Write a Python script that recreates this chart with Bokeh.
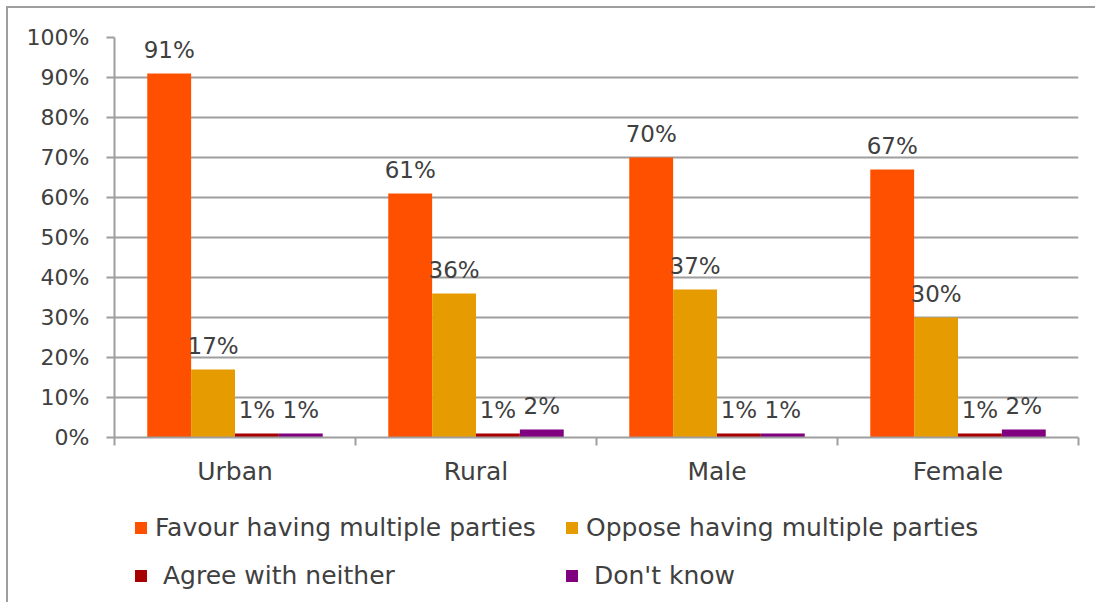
from bokeh.plotting import figure
from bokeh.layouts import column
from bokeh.models import (ColumnDataSource, FixedTicker, PrintfTickFormatter, Legend,
                          LegendItem, LabelSet, Range1d)
from bokeh.core.properties import value
from bokeh.embed import file_html
from bokeh.resources import INLINE

categories = ["Urban", "Rural", "Male", "Female"]
series_names = ["Favour having multiple parties", "Oppose having multiple parties",
                " Agree with neither", " Don't know"]
favour = [91, 61, 70, 67]
oppose = [17, 36, 37, 30]
neither = [1, 1, 1, 1]
dont_know = [1, 2, 1, 2]
series_values = [favour, oppose, neither, dont_know]
colors = ["#FF5000", "#E69C00", "#A80000", "#800080"]
y_ticks = [0, 10, 20, 30, 40, 50, 60, 70, 80, 90, 100]

FONT = "DejaVu Sans"
TXT = "#404040"
GRID = "#9e9e9e"

p = figure(width=1087, height=492, output_backend="svg", toolbar_location=None,
           x_range=Range1d(0, len(categories)), y_range=Range1d(0, 100),
           min_border_left=106, min_border_top=29, min_border_right=17, min_border_bottom=63,
           background_fill_color="white", border_fill_color="white")
p.outline_line_color = None

# axes
p.xaxis.ticker = FixedTicker(ticks=[i + 0.5 for i in range(len(categories))],
                             minor_ticks=list(range(len(categories) + 1)))
p.xaxis.major_label_overrides = {i + 0.5: c for i, c in enumerate(categories)}
p.xaxis.major_tick_out = 0
p.xaxis.major_tick_in = 0
p.xaxis.minor_tick_out = 8
p.xaxis.minor_tick_in = 0
p.xaxis.minor_tick_line_color = GRID
p.xaxis.minor_tick_line_width = 2
p.xaxis.axis_line_color = GRID
p.xaxis.axis_line_width = 2
p.xaxis.major_label_text_font = FONT
p.xaxis.major_label_text_font_size = "25px"
p.xaxis.major_label_text_color = TXT
p.xaxis.major_label_standoff = 11

p.yaxis.ticker = FixedTicker(ticks=y_ticks)
p.yaxis.formatter = PrintfTickFormatter(format="%d%%")
p.yaxis.major_tick_out = 8
p.yaxis.major_tick_in = 0
p.yaxis.minor_tick_line_color = None
p.yaxis.major_tick_line_color = GRID
p.yaxis.major_tick_line_width = 2
p.yaxis.axis_line_color = GRID
p.yaxis.axis_line_width = 2
p.yaxis.major_label_text_font = FONT
p.yaxis.major_label_text_font_size = "22px"
p.yaxis.major_label_text_color = TXT
p.yaxis.major_label_standoff = 17

p.xgrid.grid_line_color = None
p.ygrid.grid_line_color = GRID
p.ygrid.grid_line_width = 2

bar_w = 0.182
offsets = [-1.5 * bar_w, -0.5 * bar_w, 0.5 * bar_w, 1.5 * bar_w]

# legend strip (separate figure so the legend is not clipped by the chart frame);
# its renderers are hidden, only their legend swatches are shown
pl = figure(width=1087, height=102, output_backend="svg", toolbar_location=None,
            x_axis_type=None, y_axis_type=None, min_border=0,
            x_range=Range1d(0, len(categories)), y_range=Range1d(0, 100),
            background_fill_color="white", border_fill_color="white")
pl.outline_line_color = None
pl.grid.grid_line_color = None

items = []
for name, vals, col, off in zip(series_names, series_values, colors, offsets):
    src = ColumnDataSource(dict(
        x=[i + 0.5 + off for i in range(len(categories))],
        top=vals,
        label=[f"{v}%" for v in vals],
    ))
    p.vbar(x="x", top="top", width=bar_w, source=src, fill_color=col, line_color=None)
    lab = LabelSet(x="x", y="top", text="label", source=src, y_offset=16,
                   text_align="center", text_baseline="alphabetic",
                   text_font=value(FONT), text_font_size="23px", text_color=TXT)
    p.add_layout(lab)
    rl = pl.vbar(x="x", top="top", width=bar_w, source=src, fill_color=col, line_color=None)
    rl.visible = False
    items.append(LegendItem(label=name, renderers=[rl]))

# column-major fill: column 1 = items 0, 2 ; column 2 = items 1, 3
ordered = [items[0], items[2], items[1], items[3]]

legend = Legend(items=ordered, ncols=2, location=(19, 12),
                glyph_width=15, glyph_height=15, label_standoff=7,
                label_height=29, label_width=390, spacing=19, padding=0, margin=0,
                border_line_color=None, background_fill_alpha=0,
                inactive_fill_alpha=0,
                label_text_font=FONT, label_text_font_size="25px", label_text_color=TXT)
pl.add_layout(legend, "center")

layout = column(p, pl, spacing=0)
layout.styles = {"margin-left": "6px", "margin-top": "6px",
                 "border-left": "2px solid #9e9e9e", "border-top": "2px solid #9e9e9e"}

open("out.html", "w").write(file_html(layout, INLINE))
